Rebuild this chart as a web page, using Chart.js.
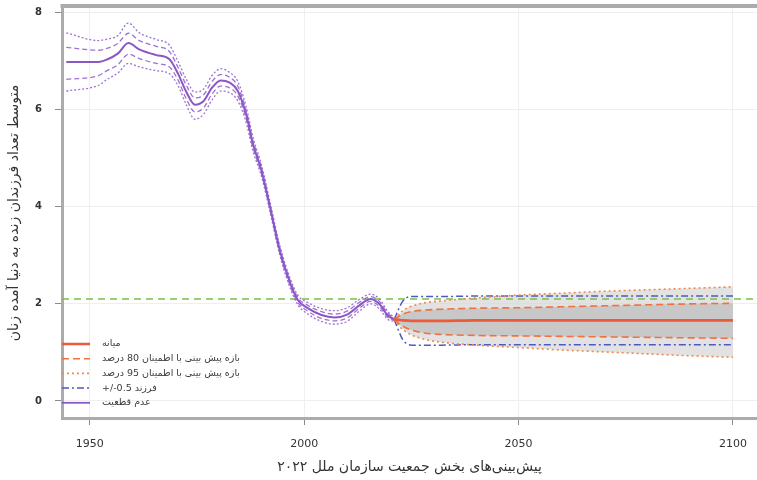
<!DOCTYPE html>
<html>
<head>
<meta charset="utf-8">
<script src="https://cdn.jsdelivr.net/npm/chart.js@4/dist/chart.umd.min.js"></script>
<style>
  html, body { margin: 0; padding: 0; background: #ffffff; }
  #wrap { width: 757px; height: 480px; }
</style>
</head>
<body>
<div id="wrap"><canvas id="tfr" width="757" height="480"></canvas></div>
<script>
// Iran: total fertility, estimates and probabilistic projections (UN WPP 2022)

// Estimates with uncertainty
const histYears  = [1944.5, 1952, 1954, 1956.5, 1959, 1961.5, 1965.5, 1968.5, 1970.5, 1972.5, 1974.5, 1976.5, 1978.5, 1980.5, 1982.5, 1984.5, 1986.5, 1988, 1990, 1992, 1994.3, 1996.7, 1998.5, 2001, 2004, 2007, 2010, 2013, 2015.5, 2017.5, 2019.5, 2021];
const histMedian = [6.98, 6.98, 7.03, 7.15, 7.37, 7.24, 7.12, 7.04, 6.75, 6.36, 6.10, 6.17, 6.45, 6.60, 6.56, 6.38, 5.88, 5.30, 4.75, 4.00, 3.10, 2.43, 2.08, 1.90, 1.77, 1.72, 1.78, 1.98, 2.10, 2.00, 1.76, 1.68];
const hist80Low  = [6.62, 6.70, 6.80, 6.92, 7.14, 7.05, 6.95, 6.88, 6.62, 6.22, 5.95, 6.03, 6.32, 6.48, 6.45, 6.28, 5.80, 5.23, 4.69, 3.95, 3.05, 2.38, 2.03, 1.84, 1.70, 1.65, 1.71, 1.92, 2.05, 1.95, 1.72, 1.66];
const hist80High = [7.28, 7.22, 7.26, 7.36, 7.57, 7.42, 7.30, 7.20, 6.88, 6.50, 6.24, 6.30, 6.58, 6.72, 6.67, 6.48, 5.96, 5.37, 4.81, 4.05, 3.15, 2.48, 2.13, 1.96, 1.84, 1.79, 1.85, 2.04, 2.15, 2.05, 1.80, 1.70];
const hist95Low  = [6.38, 6.50, 6.62, 6.75, 6.95, 6.88, 6.80, 6.74, 6.50, 6.10, 5.80, 5.90, 6.20, 6.38, 6.35, 6.18, 5.72, 5.16, 4.63, 3.90, 3.00, 2.33, 1.98, 1.78, 1.64, 1.58, 1.64, 1.86, 2.00, 1.90, 1.68, 1.64];
const hist95High = [7.58, 7.42, 7.45, 7.52, 7.78, 7.58, 7.44, 7.33, 7.00, 6.62, 6.36, 6.42, 6.70, 6.84, 6.77, 6.58, 6.04, 5.44, 4.87, 4.10, 3.20, 2.53, 2.18, 2.02, 1.90, 1.86, 1.92, 2.10, 2.20, 2.10, 1.84, 1.72];

// Projections
const projYears    = [2021, 2022, 2023, 2025, 2028, 2032, 2040, 2050, 2060, 2070, 2080, 2090, 2100];
const projMedian   = [1.68, 1.67, 1.66, 1.65, 1.65, 1.65, 1.66, 1.66, 1.66, 1.66, 1.66, 1.66, 1.66];
const proj80Low    = [1.68, 1.60, 1.54, 1.46, 1.40, 1.37, 1.35, 1.34, 1.33, 1.32, 1.31, 1.30, 1.29];
const proj80High   = [1.68, 1.74, 1.79, 1.84, 1.87, 1.89, 1.91, 1.92, 1.94, 1.96, 1.98, 2.00, 2.01];
const proj95Low    = [1.68, 1.56, 1.47, 1.36, 1.27, 1.21, 1.15, 1.10, 1.05, 1.01, 0.97, 0.93, 0.90];
const proj95High   = [1.68, 1.78, 1.86, 1.95, 2.02, 2.06, 2.12, 2.18, 2.22, 2.26, 2.29, 2.32, 2.35];
const projHalfLow  = [1.68, 1.45, 1.26, 1.15, 1.15, 1.15, 1.16, 1.16, 1.16, 1.16, 1.16, 1.16, 1.16];
const projHalfHigh = [1.68, 1.89, 2.06, 2.15, 2.15, 2.15, 2.16, 2.16, 2.16, 2.16, 2.16, 2.16, 2.16];

// Replacement-level fertility
const replacementLevel = 2.1;

// Axes
const xTicks = [1950, 2000, 2050, 2100];
const yTicks = [0, 2, 4, 6, 8];
const X_MIN = 1943.5, X_MAX = 2105.6;
const Y_MIN = -0.35, Y_MAX = 8.09;

const xTitle = 'پیش‌بینی‌های بخش جمعیت سازمان ملل ۲۰۲۲';
const yTitle = 'متوسط تعداد فرزندان زنده به دنیا آمده زنان';
const legendLabels = [
  'میانه',
  'بازه پیش بینی با اطمینان 80 درصد',
  'بازه پیش بینی با اطمینان 95 درصد',
  '+/-0.5 فرزند',
  'عدم قطعیت'
];

const RED = '#ec5a3a', ORANGE = '#f1713f', ORANGE_DOT = '#f08a4e';
const BLUE = '#4f58c6', PURPLE = '#8b57c6', PURPLE_LIGHT = '#9d72d3', GREEN = '#7cc043';

const legendStyles = [
  { color: RED, dash: [], width: 2.5 },
  { color: ORANGE, dash: [7, 4], width: 1.6 },
  { color: ORANGE_DOT, dash: [2, 3], width: 1.6 },
  { color: BLUE, dash: [7, 3, 2, 3], width: 1.5 },
  { color: PURPLE, dash: [], width: 1.8 }
];

const pts = (xs, ys) => xs.map((x, i) => ({ x: x, y: ys[i] }));

function line(data, color, width, dash, extra) {
  return Object.assign({
    data: data,
    borderColor: color,
    backgroundColor: color,
    borderWidth: width,
    borderDash: dash,
    pointRadius: 0,
    fill: false,
    cubicInterpolationMode: 'monotone'
  }, extra || {});
}

const CLEAR = 'rgba(0,0,0,0)';

const datasets = [
  line(pts(projYears, projMedian), RED, 2.6, []),                       // 0
  line(pts(projYears, proj80High), ORANGE, 1.6, [7, 4]),                // 1
  line(pts(projYears, proj80Low), ORANGE, 1.6, [7, 4]),                 // 2
  line(pts(projYears, proj95High), ORANGE_DOT, 1.6, [2, 3]),            // 3
  line(pts(projYears, proj95Low), ORANGE_DOT, 1.6, [2, 3]),             // 4
  line(pts(projYears, projHalfHigh), BLUE, 1.5, [7, 3, 2, 3]),          // 5
  line(pts(projYears, projHalfLow), BLUE, 1.5, [7, 3, 2, 3]),           // 6
  line(pts(histYears, histMedian), PURPLE, 2, []),                      // 7
  line(pts(histYears, hist80High), PURPLE_LIGHT, 1.3, [5, 3]),          // 8
  line(pts(histYears, hist80Low), PURPLE_LIGHT, 1.3, [5, 3]),           // 9
  line(pts(histYears, hist95High), PURPLE_LIGHT, 1.3, [2, 2]),          // 10
  line(pts(histYears, hist95Low), PURPLE_LIGHT, 1.3, [2, 2]),           // 11
  line([{ x: X_MIN, y: replacementLevel }, { x: X_MAX, y: replacementLevel }], GREEN, 1.6, [7, 5]), // 12
  // trajectory cloud: dense core and lighter fringe
  line(pts(projYears, proj80High), CLEAR, 0, [], { fill: 14, backgroundColor: 'rgba(190,190,190,0.72)' }), // 13
  line(pts(projYears, proj80Low), CLEAR, 0, []),                                                          // 14
  line(pts(projYears, proj95High), CLEAR, 0, [], { fill: 16, backgroundColor: 'rgba(214,214,214,0.7)' }), // 15
  line(pts(projYears, proj95Low), CLEAR, 0, [])                                                           // 16
];

// Frame line along the top and the in-plot legend
const framePlugin = {
  id: 'frameAndLegend',
  afterDatasetsDraw(chart) {
    const ctx = chart.ctx;
    const area = chart.chartArea;
    ctx.save();
    // top frame
    ctx.strokeStyle = '#ababab';
    ctx.lineWidth = 4;
    ctx.beginPath();
    ctx.moveTo(area.left - 1.5, area.top - 2);
    ctx.lineTo(chart.width, area.top - 2);
    ctx.stroke();

    // legend
    const rowH = 14.7;
    const firstRow = area.bottom - 74;
    ctx.font = "9.5px 'DejaVu Sans', sans-serif";
    ctx.textBaseline = 'middle';
    ctx.textAlign = 'left';
    legendLabels.forEach((label, i) => {
      const y = firstRow + i * rowH;
      const st = legendStyles[i];
      ctx.strokeStyle = st.color;
      ctx.lineWidth = st.width;
      ctx.setLineDash(st.dash);
      ctx.beginPath();
      ctx.moveTo(area.left, y);
      ctx.lineTo(area.left + 28, y);
      ctx.stroke();
      ctx.setLineDash([]);
      ctx.fillStyle = '#3a3a3a';
      ctx.fillText(label, area.left + 40, y);
    });
    ctx.restore();
  }
};

Chart.defaults.font.family = "'DejaVu Sans', sans-serif";

new Chart(document.getElementById('tfr'), {
  type: 'line',
  data: { datasets: datasets },
  plugins: [framePlugin],
  options: {
    responsive: false,
    animation: false,
    devicePixelRatio: 1,
    layout: { padding: { top: 8, right: 0, bottom: 0, left: 0 } },
    plugins: { legend: { display: false }, tooltip: { enabled: false } },
    scales: {
      x: {
        type: 'linear',
        min: X_MIN,
        max: X_MAX,
        afterBuildTicks: s => { s.ticks = xTicks.map(v => ({ value: v })); },
        afterFit: s => { s.height = 62; s.paddingLeft = 0; s.paddingRight = 0; },
        ticks: {
          callback: v => String(v),
          color: '#333',
          font: { size: 11 },
          padding: 13,
          maxRotation: 0,
          autoSkip: false
        },
        grid: { color: '#efefef', tickColor: '#8a8a8a', tickLength: 7, lineWidth: 1 },
        border: { color: '#ababab', width: 3 },
        title: { display: true, text: xTitle, color: '#333', font: { size: 14 }, padding: { top: 0, bottom: 4 } }
      },
      y: {
        type: 'linear',
        min: Y_MIN,
        max: Y_MAX,
        afterBuildTicks: s => { s.ticks = yTicks.map(v => ({ value: v })); },
        afterFit: s => { s.width = 62; s.paddingTop = 0; s.paddingBottom = 0; },
        ticks: {
          callback: v => String(v),
          color: '#333',
          font: { size: 10, weight: 'bold' },
          padding: 13
        },
        grid: { color: '#efefef', tickColor: '#8a8a8a', tickLength: 7, lineWidth: 1 },
        border: { color: '#ababab', width: 3 },
        title: { display: true, text: yTitle, color: '#333', font: { size: 14 }, padding: { top: 6, bottom: 0 } }
      }
    }
  }
});
</script>
</body>
</html>
